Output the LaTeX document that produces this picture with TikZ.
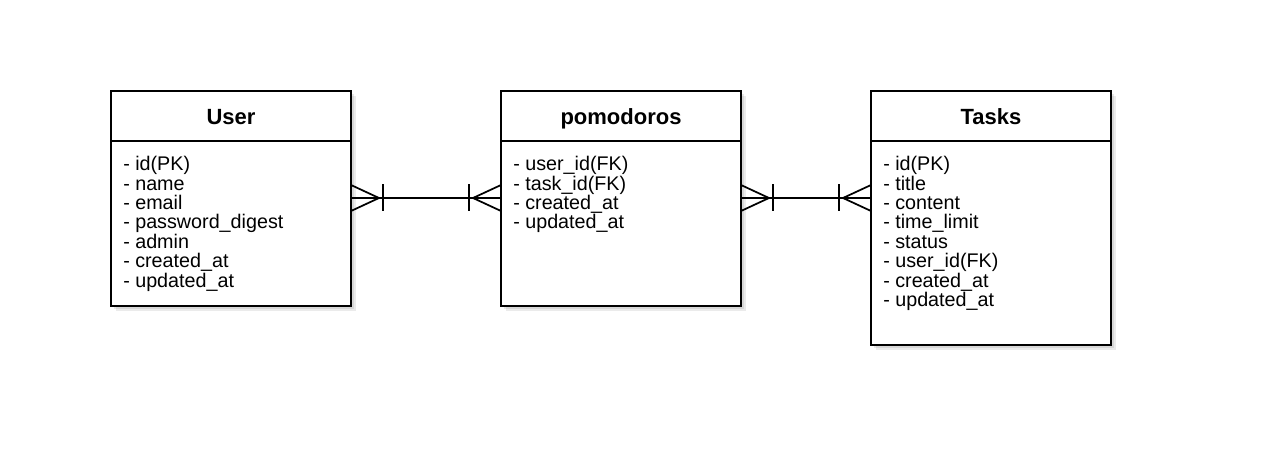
\documentclass[tikz,border=0pt]{standalone}
\usepackage{fontspec}
\setmainfont{Liberation Sans}
\usetikzlibrary{positioning,calc,shadows}

\tikzset{
  box/.style={draw, line width=1.3pt, fill=white, inner sep=0pt, outer sep=0pt,
    minimum width=180pt,
    general shadow={shadow xshift=3.6pt, shadow yshift=-3.6pt, fill=black, opacity=0.08},
    drop shadow={shadow xshift=2.2pt, shadow yshift=-2.2pt, opacity=0.18}},
  head/.style={box, minimum height=37.5pt, text height=13.3pt, text depth=0pt,
    font=\fontsize{16.5}{18}\selectfont\bfseries},
  attrs/.style={inner sep=0pt, align=left, anchor=north west,
    font=\fontsize{14.8}{14.6}\selectfont},
  rel/.style={line width=1.3pt},
}

% crow's foot with a bar: #1 point on the box edge, #2 direction (1 or -1)
\newcommand{\manyend}[2]{%
  \draw[rel] ($(#1)+(0,13)$) -- ($(#1)+(#2*28,0)$) -- ($(#1)+(0,-13)$);
  \draw[rel] ($(#1)+(#2*32,13.5)$) -- ($(#1)+(#2*32,-13.5)$);
}

\begin{document}
\begin{tikzpicture}[x=0.75pt,y=0.75pt]
  \fill[white] (0,0) rectangle (1266,468);
  \useasboundingbox (0,0) rectangle (1266,468);

  % entities
  \node[head] (user) at (231,352) {User};
  \node[box, minimum height=123.75pt, below=0pt of user] (userattr) {};
  \node[attrs] (userlist) at ([shift={(12,-15)}]userattr.north west)
    {- id(PK)\\- name\\- email\\- password\_digest\\- admin\\- created\_at\\- updated\_at};

  \node[head] (pomo) at (621,352) {pomodoros};
  \node[box, minimum height=123.75pt, below=0pt of pomo] (pomoattr) {};
  \node[attrs] (pomolist) at ([shift={(12,-15)}]pomoattr.north west)
    {- user\_id(FK)\\- task\_id(FK)\\- created\_at\\- updated\_at};

  \node[head] (task) at (991,352) {Tasks};
  \node[box, minimum height=153pt, below=0pt of task] (taskattr) {};
  \node[attrs] (tasklist) at ([shift={(12,-15)}]taskattr.north west)
    {- id(PK)\\- title\\- content\\- time\_limit\\- status\\- user\_id(FK)\\- created\_at\\- updated\_at};

  % relations
  \coordinate (ua) at ($(userattr.north east)+(0,-57)$);
  \coordinate (pa) at ($(pomoattr.north west)+(0,-57)$);
  \coordinate (pb) at ($(pomoattr.north east)+(0,-57)$);
  \coordinate (ta) at ($(taskattr.north west)+(0,-57)$);
  \draw[rel] (ua) -- (pa);
  \draw[rel] (pb) -- (ta);
  \manyend{ua}{1}
  \manyend{pa}{-1}
  \manyend{pb}{1}
  \manyend{ta}{-1}
\end{tikzpicture}
\end{document}
